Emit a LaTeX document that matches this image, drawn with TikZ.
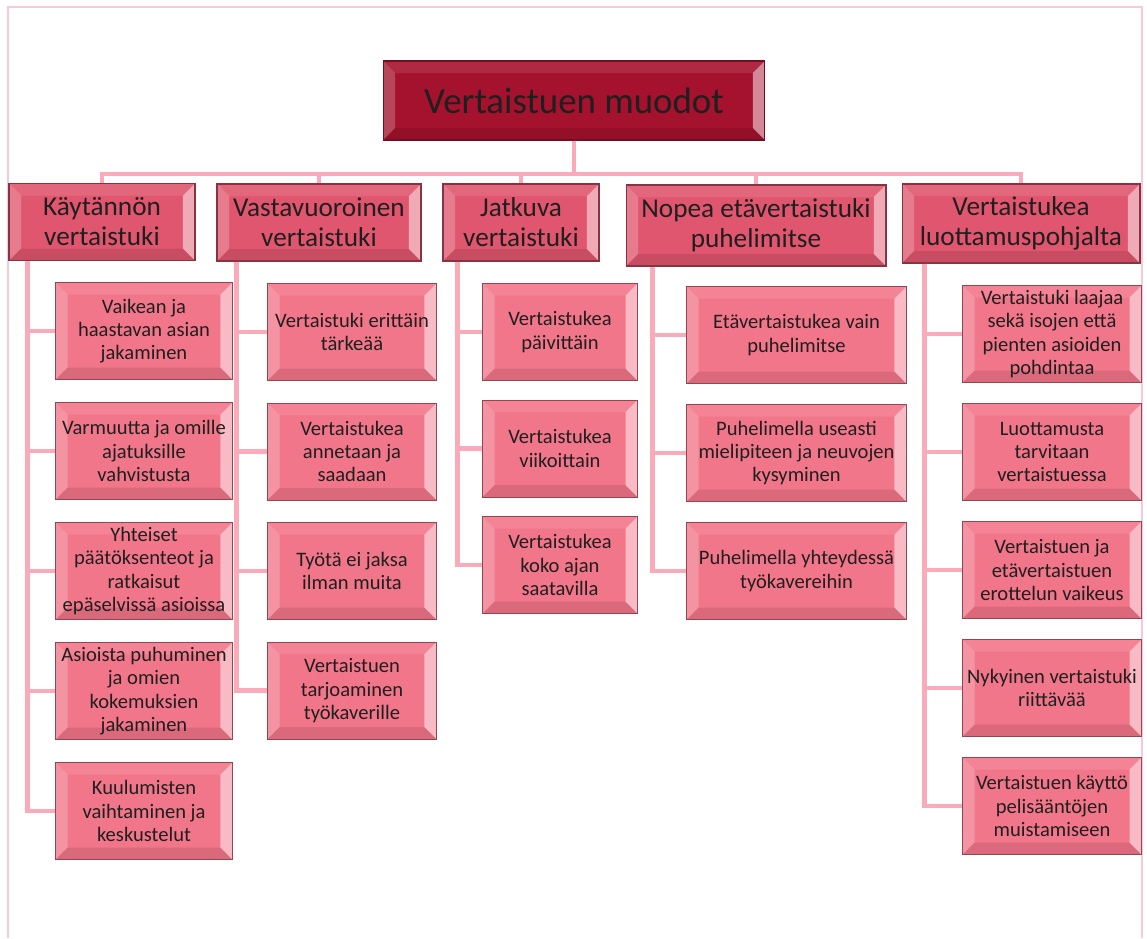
\documentclass[tikz,border=0pt]{standalone}
\usepackage{fontspec}
\setmainfont{Carlito}
\usepackage{tikz}
\usetikzlibrary{positioning}

\definecolor{topred}{RGB}{165,18,46}
\definecolor{headpink}{RGB}{224,86,110}
\definecolor{kidpink}{RGB}{242,118,137}
\definecolor{linkpink}{RGB}{250,170,184}
\definecolor{framepink}{RGB}{250,200,218}
\newcommand{\bevw}{0.24cm}

\tikzset{
  bevel/.style={path picture={
    \coordinate (bnw) at (path picture bounding box.north west);
    \coordinate (bne) at (path picture bounding box.north east);
    \coordinate (bsw) at (path picture bounding box.south west);
    \coordinate (bse) at (path picture bounding box.south east);
    \fill[white,opacity=.22] (bnw) -- (bsw) -- ([shift={(\bevw,\bevw)}]bsw)
      -- ([shift={(\bevw,-\bevw)}]bnw) -- cycle;
    \fill[white,opacity=.5] (bne) -- (bse) -- ([shift={(-\bevw,\bevw)}]bse)
      -- ([shift={(-\bevw,-\bevw)}]bne) -- cycle;
    \fill[white,opacity=.1] (bnw) -- (bne) -- ([shift={(-\bevw,-\bevw)}]bne)
      -- ([shift={(\bevw,-\bevw)}]bnw) -- cycle;
    \fill[black,opacity=.1] (bsw) -- (bse) -- ([shift={(-\bevw,\bevw)}]bse)
      -- ([shift={(\bevw,\bevw)}]bsw) -- cycle;
  }}
}

\begin{document}
\begin{tikzpicture}[
  x=0.02cm,y=-0.02cm,
  box/.style={bevel,align=center,inner sep=1pt,text=black!88,line width=0.6pt},
  topbox/.style={box,fill=topred,draw=topred!70!black,minimum width=7.64cm,
    minimum height=1.58cm,font=\fontsize{21}{25}\selectfont},
  headbox/.style={box,fill=headpink,draw=headpink!60!black,minimum height=1.54cm,
    font=\fontsize{15.5}{17}\selectfont},
  kid/.style={box,fill=kidpink,draw=kidpink!60!black,minimum height=1.94cm,
    anchor=north west,font=\fontsize{11.7}{13.3}\selectfont},
  kidA/.style={kid,minimum width=3.54cm},
  kidB/.style={kid,minimum width=3.38cm},
  kidC/.style={kid,minimum width=3.10cm},
  kidD/.style={kid,minimum width=4.40cm},
  kidE/.style={kid,minimum width=3.58cm},
  link/.style={draw=linkpink,line width=0.09cm}
]
\useasboundingbox (0,0) rectangle (1147,938);
\draw[framepink,line width=0.05cm] (8,938) -- (8,7) -- (1142,7) -- (1142,938);

% root and the five headings
\node[topbox] (root) at (574,100.5) {Vertaistuen muodot};
\coordinate (bar) at (574,174);
\node[headbox,minimum width=3.72cm] (h1) at (102,222) {Käytännön\\vertaistuki};
\node[headbox,minimum width=4.08cm] (h2) at (319,222.5) {Vastavuoroinen\\vertaistuki};
\node[headbox,minimum width=3.12cm] (h3) at (521,222.5) {Jatkuva\\vertaistuki};
\node[headbox,minimum width=5.2cm,minimum height=1.62cm] (h4) at (756,225.5)
  {Nopea etävertaistuki\\puhelimitse};
\node[headbox,minimum width=4.76cm,minimum height=1.58cm] (h5) at (1021,223.5)
  {Vertaistukea\\luottamuspohjalta};

% column 1
\node[kidA] (c11) at (55,282) {Vaikean ja\\haastavan asian\\jakaminen};
\node[kidA,below=0.44cm of c11.south west,anchor=north west] (c12)
  {Varmuutta ja omille\\ajatuksille\\vahvistusta};
\node[kidA,below=0.44cm of c12.south west,anchor=north west] (c13)
  {Yhteiset\\päätöksenteot ja\\ratkaisut\\epäselvissä asioissa};
\node[kidA,below=0.44cm of c13.south west,anchor=north west] (c14)
  {Asioista puhuminen\\ja omien\\kokemuksien\\jakaminen};
\node[kidA,below=0.44cm of c14.south west,anchor=north west] (c15)
  {Kuulumisten\\vaihtaminen ja\\keskustelut};

% column 2
\node[kidB] (c21) at (267,283) {Vertaistuki erittäin\\tärkeää};
\node[kidB,below=0.43cm of c21.south west,anchor=north west] (c22)
  {Vertaistukea\\annetaan ja\\saadaan};
\node[kidB,below=0.43cm of c22.south west,anchor=north west] (c23)
  {Työtä ei jaksa\\ilman muita};
\node[kidB,below=0.43cm of c23.south west,anchor=north west] (c24)
  {Vertaistuen\\tarjoaminen\\työkaverille};

% column 3
\node[kidC] (c31) at (482,283) {Vertaistukea\\päivittäin};
\node[kidC,below=0.37cm of c31.south west,anchor=north west] (c32)
  {Vertaistukea\\viikoittain};
\node[kidC,below=0.37cm of c32.south west,anchor=north west] (c33)
  {Vertaistukea\\koko ajan\\saatavilla};

% column 4
\node[kidD] (c41) at (686,286) {Etävertaistukea vain\\puhelimitse};
\node[kidD,below=0.40cm of c41.south west,anchor=north west] (c42)
  {Puhelimella useasti\\mielipiteen ja neuvojen\\kysyminen};
\node[kidD,below=0.40cm of c42.south west,anchor=north west] (c43)
  {Puhelimella yhteydessä\\työkavereihin};

% column 5
\node[kidE] (c51) at (962,285) {Vertaistuki laajaa\\sekä isojen että\\pienten asioiden\\pohdintaa};
\node[kidE,below=0.40cm of c51.south west,anchor=north west] (c52)
  {Luottamusta\\tarvitaan\\vertaistuessa};
\node[kidE,below=0.40cm of c52.south west,anchor=north west] (c53)
  {Vertaistuen ja\\etävertaistuen\\erottelun vaikeus};
\node[kidE,below=0.40cm of c53.south west,anchor=north west] (c54)
  {Nykyinen vertaistuki\\riittävää};
\node[kidE,below=0.40cm of c54.south west,anchor=north west] (c55)
  {Vertaistuen käyttö\\pelisääntöjen\\muistamiseen};

% connectors
\foreach \h in {h1,h2,h3,h4,h5}
  \draw[link] (root.south) |- (bar -| \h.north) -- (\h.north);
\foreach \c in {c11,c12,c13,c14,c15}
  \draw[link] ([xshift=0.38cm]h1.south west) |- (\c.west);
\foreach \c in {c21,c22,c23,c24}
  \draw[link] ([xshift=0.40cm]h2.south west) |- (\c.west);
\foreach \c in {c31,c32,c33}
  \draw[link] ([xshift=0.30cm]h3.south west) |- (\c.west);
\foreach \c in {c41,c42,c43}
  \draw[link] ([xshift=0.54cm]h4.south west) |- (\c.west);
\foreach \c in {c51,c52,c53,c54,c55}
  \draw[link] ([xshift=0.46cm]h5.south west) |- (\c.west);
\end{tikzpicture}
\end{document}
